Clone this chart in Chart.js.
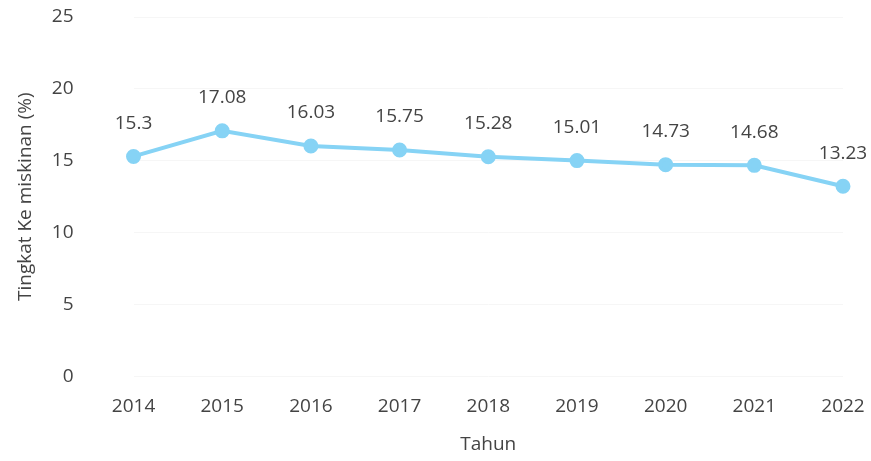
<!DOCTYPE html>
<html>
<head>
<meta charset="utf-8">
<script src="https://cdn.jsdelivr.net/npm/chart.js@4"></script>
<style>
  html, body { margin: 0; padding: 0; background: #fff; }
  #wrap { width: 871px; height: 461px; }
</style>
</head>
<body>
<div id="wrap"><canvas id="povertyChart"></canvas></div>
<script>
// data
const years = ["2014", "2015", "2016", "2017", "2018", "2019", "2020", "2021", "2022"];
const povertyRate = [15.3, 17.08, 16.03, 15.75, 15.28, 15.01, 14.73, 14.68, 13.23];
const valueLabels = ["15.3", "17.08", "16.03", "15.75", "15.28", "15.01", "14.73", "14.68", "13.23"];

const lineColor = "#86d3f5";
const textColor = "#444";
const fontFamily = "'Open Sans', sans-serif";

// labels above each point
const pointLabels = {
  id: "pointLabels",
  afterDatasetsDraw(chart) {
    const ctx = chart.ctx;
    const meta = chart.getDatasetMeta(0);
    ctx.save();
    ctx.font = "19px " + fontFamily;
    ctx.fillStyle = textColor;
    ctx.textAlign = "center";
    ctx.textBaseline = "middle";
    meta.data.forEach((pt, i) => {
      ctx.fillText(valueLabels[i], pt.x, pt.y - 33);
    });
    ctx.restore();
  }
};

new Chart(document.getElementById("povertyChart"), {
  type: "line",
  data: {
    labels: years,
    datasets: [{
      data: povertyRate,
      borderColor: lineColor,
      backgroundColor: lineColor,
      borderWidth: 4,
      pointRadius: 5.5,
      pointHoverRadius: 5.5,
      tension: 0,
      fill: false
    }]
  },
  options: {
    responsive: true,
    maintainAspectRatio: false,
    animation: false,
    layout: { padding: { top: 17, right: 28, bottom: 5, left: 4 } },
    plugins: {
      legend: { display: false },
      tooltip: { enabled: false }
    },
    scales: {
      x: {
        offset: false,
        grid: { display: true, drawOnChartArea: false, drawTicks: true, tickLength: 15, tickColor: "rgba(0,0,0,0)" },
        border: { display: false },
        ticks: { color: textColor, font: { family: fontFamily, size: 19 }, padding: 4, maxRotation: 0 },
        title: { display: true, text: "Tahun", color: textColor, font: { family: fontFamily, size: 19 }, padding: { top: 11, bottom: 0 } }
      },
      y: {
        min: 0,
        max: 25,
        grid: { color: "#f6f6f6", drawTicks: true, tickLength: 56, tickColor: "rgba(0,0,0,0)" },
        border: { display: false },
        ticks: { stepSize: 5, color: textColor, font: { family: fontFamily, size: 19 }, padding: 4 },
        title: { display: true, text: "Tingkat Ke miskinan (%)", color: textColor, font: { family: fontFamily, size: 19 }, padding: { top: 10, bottom: 11 } }
      }
    }
  },
  plugins: [pointLabels]
});
</script>
</body>
</html>
